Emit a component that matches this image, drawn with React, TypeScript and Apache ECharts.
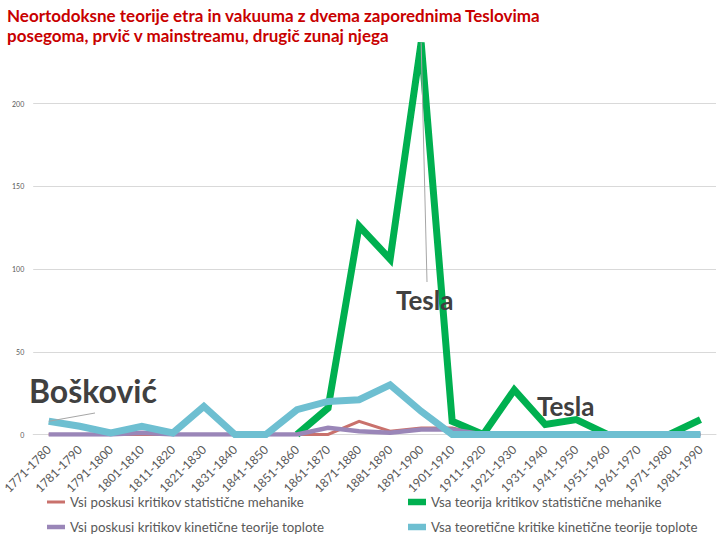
import React, { useEffect, useRef } from 'react';
import * as echarts from 'echarts';

const titleLines = [
  'Neortodoksne teorije etra in vakuuma z dvema zaporednima Teslovima',
  'posegoma, prvič v mainstreamu, drugič zunaj njega',
];

const categories = [
  '1771-1780', '1781-1790', '1791-1800', '1801-1810', '1811-1820', '1821-1830',
  '1831-1840', '1841-1850', '1851-1860', '1861-1870', '1871-1880', '1881-1890',
  '1891-1900', '1901-1910', '1911-1920', '1921-1930', '1931-1940', '1941-1950',
  '1951-1960', '1961-1970', '1971-1980', '1981-1990',
];

const seriesNames = [
  'Vsi poskusi kritikov statistične mehanike',
  'Vsa teorija kritikov statistične mehanike',
  'Vsi poskusi kritikov kinetične teorije toplote',
  'Vsa teoretične kritike kinetične teorije toplote',
];

// red
const statExperiments = [0, 0, 0, 0, 0, 0, 0, 0, 0, 0, 8, 2, 4, 4, 0, 0, 0, 0, 0, 0, 0, 0];
// green
const statTheory = [null, null, null, null, null, null, null, null, 0, 16, 126, 106, 237, 8, 0, 27, 6, 9, 0, 0, 0, 9];
// purple
const kinExperiments = [0, 0, 0, 1, 0, 0, 0, 0, 0, 4, 2, 1, 3, 3, 0, 0, 0, 0, 0, 0, 0, 0];
// cyan
const kinTheory = [8, 5, 1, 5, 1, 17, 0, 0, 15, 20, 21, 30, 14, 0, 0, 0, 0, 0, 0, 0, 0, 0];

const yMin = 0;
const yMax = 250;
const yInterval = 50;

const annotations = [
  { text: 'Bošković', size: 32 },
  { text: 'Tesla', size: 26 },
  { text: 'Tesla', size: 26 },
];

const colors = ['#C9716C', '#00B050', '#9A86B8', '#6EBFD1'];
const widths = [3, 7, 4.5, 7];
const iconHeights = [3, 6.5, 4.5, 6.5];
const FONT = 'Lato, "Open Sans", sans-serif';

export default function App() {
  const ref = useRef<HTMLDivElement>(null);
  useEffect(() => {
    if (!ref.current) return;
    const chart = echarts.init(ref.current, null, { renderer: 'svg' });
    const dataSets = [statExperiments, statTheory, kinExperiments, kinTheory];
    const iconFor = (i: number) =>
      `path://M0,0h18v${iconHeights[i].toFixed(1)}h-18z`;
    const legendBase = {
      orient: 'vertical',
      top: 495,
      padding: 0,
      itemWidth: 18,
      itemHeight: 7,
      itemGap: 11,
      textStyle: { fontFamily: FONT, fontSize: 13.3, color: '#595959', lineHeight: 14 },
    };
    chart.setOption({
      animation: false,
      backgroundColor: '#ffffff',
      title: {
        text: titleLines.join('\n'),
        left: 2,
        top: 0,
        textStyle: {
          fontFamily: FONT,
          fontSize: 17,
          fontWeight: 'bold',
          color: '#C80000',
          lineHeight: 20,
        },
      },
      grid: { left: 26, right: 4, top: 21, bottom: 105.5, containLabel: false },
      xAxis: {
        type: 'category',
        data: categories,
        boundaryGap: true,
        axisLine: { show: true, lineStyle: { color: '#D9D9D9', width: 1 } },
        axisTick: { show: false },
        axisLabel: {
          interval: 0,
          rotate: 45,
          fontFamily: FONT,
          fontSize: 12,
          color: '#595959',
          margin: 13,
        },
      },
      yAxis: {
        type: 'value',
        min: yMin,
        max: yMax,
        interval: yInterval,
        axisLine: { show: false },
        axisTick: { show: false },
        axisLabel: {
          fontFamily: FONT,
          fontSize: 7,
          color: '#595959',
          margin: 9,
          showMaxLabel: false,
        },
        splitLine: {
          show: true,
          showMaxLine: false,
          lineStyle: { color: '#D9D9D9', width: 1 },
        },
      },
      legend: [
        {
          ...legendBase,
          left: 47,
          data: [
            { name: seriesNames[0], icon: iconFor(0) },
            { name: seriesNames[2], icon: iconFor(2) },
          ],
        },
        {
          ...legendBase,
          left: 408,
          data: [
            { name: seriesNames[1], icon: iconFor(1) },
            { name: seriesNames[3], icon: iconFor(3) },
          ],
        },
      ],
      series: dataSets.map((d, i) => ({
        name: seriesNames[i],
        type: 'line',
        data: d,
        symbol: 'none',
        showSymbol: false,
        color: colors[i],
        lineStyle: { color: colors[i], width: widths[i], join: 'miter', cap: 'butt' },
        emphasis: { disabled: true },
      })),
    });

    const toPx = (v: [number, number]) =>
      chart.convertToPixel({ xAxisIndex: 0, yAxisIndex: 0 }, v) as number[];
    const bosStart = toPx([0, kinTheory[0]]);
    const teslaPeak = toPx([12, statTheory[12] as number]);

    const textStyle = (i: number) => ({
      text: annotations[i].text,
      fontFamily: FONT,
      fontSize: annotations[i].size,
      fontWeight: 'bold',
      fill: '#404040',
      textVerticalAlign: 'middle',
    });

    chart.setOption({
      graphic: [
        {
          type: 'line',
          silent: true,
          shape: { x1: bosStart[0], y1: bosStart[1], x2: 95, y2: 413 },
          style: { stroke: '#A6A6A6', lineWidth: 1 },
          z: 10,
        },
        {
          type: 'line',
          silent: true,
          shape: { x1: teslaPeak[0], y1: teslaPeak[1], x2: 427, y2: 282 },
          style: { stroke: '#A6A6A6', lineWidth: 1 },
          z: 10,
        },
        { type: 'text', x: 29, y: 390, z: 10, style: textStyle(0) },
        { type: 'text', x: 396, y: 300, z: 10, style: textStyle(1) },
        { type: 'text', x: 537, y: 406, z: 10, style: textStyle(2) },
      ],
    });

    return () => chart.dispose();
  }, []);
  return (
    <div
      ref={ref}
      style={{ position: 'fixed', left: 0, top: 0, width: 720, height: 540 }}
    />
  );
}
